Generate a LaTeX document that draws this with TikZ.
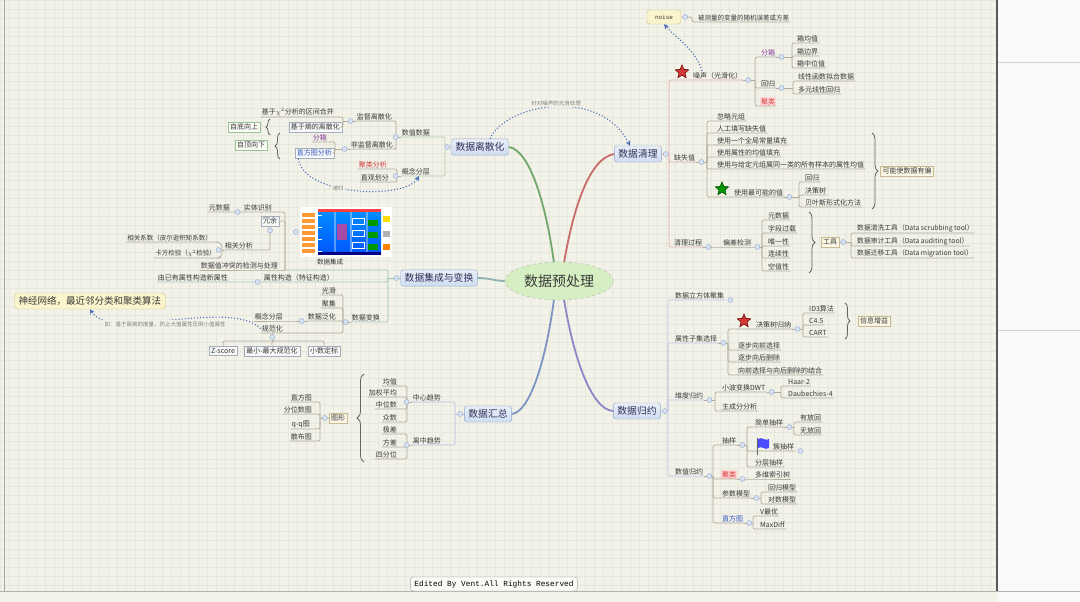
\documentclass[tikz,border=0pt]{standalone}
\usepackage{fontspec}
\setmainfont{Noto Sans CJK SC}
\setmonofont{Liberation Mono}
\usetikzlibrary{shapes.geometric,decorations.pathreplacing,arrows.meta}

\definecolor{paper}{HTML}{F2F2E9}
\definecolor{gridc}{HTML}{E6E8DE}
\definecolor{ink}{HTML}{3A3A3A}
\definecolor{wire}{HTML}{B3AB9B}
\definecolor{knobfill}{HTML}{D8E3F3}
\definecolor{knobline}{HTML}{9FB3D2}
\definecolor{topicfill}{HTML}{CFDCF0}
\definecolor{topicline}{HTML}{93A9CB}
\definecolor{tagfill}{HTML}{FBF7E6}
\definecolor{tagline}{HTML}{C9B98F}
\definecolor{boxfill}{HTML}{F7F8F8}
\definecolor{boxline}{HTML}{A4AEBB}
\definecolor{hintc}{HTML}{4A6FB8}
\definecolor{rootfill}{HTML}{D6EFC2}
\definecolor{cleanc}{HTML}{C96A6A}
\definecolor{discc}{HTML}{6FA86A}
\definecolor{integc}{HTML}{8DB2B4}
\definecolor{summc}{HTML}{7D93C4}
\definecolor{reducec}{HTML}{8D86C8}
\definecolor{purpc}{HTML}{8A3FA0}
\definecolor{redc}{HTML}{D23A3A}
\definecolor{bluec}{HTML}{3356C0}
\definecolor{notefill}{HTML}{FAF5CC}
\definecolor{noteline}{HTML}{CFC27E}

\begin{document}
\begin{tikzpicture}[x=1pt,y=-1pt,
  lbl/.style={font=\fontsize{7}{8}\selectfont,text=ink,inner sep=1pt},
  rlbl/.style={lbl,anchor=south west},
  llbl/.style={lbl,anchor=south east},
  conn/.style={draw=wire,line width=0.7pt,rounded corners=2pt},
  knob/.style={circle,draw=knobline,fill=knobfill,line width=0.5pt,inner sep=0pt,minimum size=5pt},
  topic/.style={rectangle,rounded corners=2.5pt,draw=topicline,top color=white!55!topicfill,bottom color=topicfill,text=ink!85!blue,font=\fontsize{9.8}{11}\selectfont,inner xsep=4pt,inner ysep=3.5pt},
  sumbox/.style={lbl,draw=tagline,fill=tagfill,inner sep=2pt},
  plainbox/.style={lbl,draw=boxline,fill=boxfill,inner sep=2pt},
  hintline/.style={draw=hintc,line width=1.1pt,dotted,-{Stealth[length=5pt,width=5pt]}},
  hintlabel/.style={font=\fontsize{5.5}{6}\selectfont,text=gray,fill=paper,inner sep=1pt},
  mainwire/.style={line width=1.8pt},
  badge/.style={star,star points=5,star point ratio=2.2,minimum size=14pt,inner sep=0pt,line width=0.6pt},
  brc/.style={draw=black!60,line width=0.8pt,decorate,decoration={brace,amplitude=#1}},
  brc/.default=6pt,
  note/.style={rounded corners=3pt,draw=noteline,fill=notefill,text=ink}]

\useasboundingbox (0,0) rectangle (1080,602);
\fill[paper] (0,0) rectangle (1080,602);
\draw[gridc,line width=0.3pt,step=9pt] (0,0) grid (997,590);
\fill[white!95!gray] (998,0) rectangle (1080,602);
\draw[gray!35] (998,62) -- (1080,62) (998,330) -- (1080,330);
\draw[black!65,line width=1.4pt] (997,0) -- (997,591);
\draw[gray!60,line width=0.8pt] (0,591) -- (1080,591);
\draw[gray!70,line width=0.8pt] (4,0) -- (4,591);

\node[ellipse,draw=gray!60,dashed,fill=rootfill,minimum width=96pt,minimum height=38pt,font=\fontsize{14}{16}\selectfont,text=ink] (root) at (559,281) {数据预处理};

\node[topic] (clean) at (638,154) {数据清理};
\node[topic] (disc) at (480,147) {数据离散化};
\node[topic] (integ) at (439,278) {数据集成与变换};
\node[topic] (summ) at (488,414) {数据汇总};
\node[topic] (reduce) at (637,411) {数据归约};

\draw[cleanc,mainwire] (root.75) .. controls (574,205) and (590,158) .. (clean.west);
\draw[discc,mainwire] (root.105) .. controls (546,205) and (530,150) .. (disc.east);
\draw[integc,mainwire] (root.west) .. controls (495,281) and (490,278) .. (integ.east);
\draw[summc,mainwire] (root.255) .. controls (546,360) and (530,412) .. (summ.east);
\draw[reducec,mainwire] (root.285) .. controls (574,360) and (592,410) .. (reduce.west);

% cleaning
\coordinate (cT) at (669,154);
\draw[conn,draw=cleanc!55] (clean.east) -- (cT);
\node[rlbl] (noisy) at (692,80) {噪声（光滑化）};
\node[rlbl] (lack) at (673,162) {缺失值};
\node[rlbl] (flow) at (673,247) {清理过程};
\foreach \c in {noisy,lack,flow} \draw[conn,draw=cleanc!55] (cT) |- (\c.south west) -- (\c.south east);
\node[badge,fill=redc,draw=red!45!black] (star1) at (682,72) {};

\draw[conn] (noisy.south east) -- (755,80) coordinate (nT);
\node[rlbl,text=purpc] (bin) at (760,57) {分箱};
\node[rlbl] (reg) at (760,88) {回归};
\node[rlbl,text=redc,fill=red!15] (clu) at (760,106) {聚类};
\foreach \c in {bin,reg,clu} \draw[conn] (nT) |- (\c.south west) -- (\c.south east);
\draw[conn] (bin.south east) -- (792,57) coordinate (bT);
\node[rlbl] (b1) at (796,43) {箱均值};
\node[rlbl] (b2) at (796,56) {箱边界};
\node[rlbl] (b3) at (796,68) {箱中位值};
\foreach \c in {b1,b2,b3} \draw[conn] (bT) |- (\c.south west) -- (\c.south east);
\draw[conn] (reg.south east) -- (793,88) coordinate (rT);
\node[rlbl] (r1) at (797,81) {线性函数拟合数据};
\node[rlbl] (r2) at (797,94) {多元线性回归};
\foreach \c in {r1,r2} \draw[conn] (rT) |- (\c.south west) -- (\c.south east);

\node[note,font=\ttfamily\fontsize{6}{7}\selectfont,minimum width=34pt,minimum height=14pt] (noiseword) at (664,17) {noise};
\node[rlbl,font=\fontsize{6.5}{7.5}\selectfont] (noisedef) at (697,22) {被测量的变量的随机误差或方差};
\draw[conn] (noiseword.east) -- (692,17) |- (noisedef.south west) -- (noisedef.south east);
\draw[hintline] ([xshift=10pt]noisy.north west) .. controls (696,50) and (676,38) .. (noiseword.south);

\draw[conn] (lack.south east) -- (707,162) coordinate (lT);
\node[rlbl] (m1) at (716,121) {忽略元组};
\node[rlbl] (m2) at (716,133) {人工填写缺失值};
\node[rlbl] (m3) at (716,145) {使用一个全局常量填充};
\node[rlbl] (m4) at (716,157) {使用属性的均值填充};
\node[rlbl] (m5) at (716,169) {使用与给定元组属同一类的所有样本的属性均值};
\node[rlbl] (m6) at (733,197) {使用最可能的值};
\foreach \c in {m1,m2,m3,m4,m5,m6} \draw[conn] (lT) |- (\c.south west) -- (\c.south east);
\node[badge,fill=green!60!black,draw=green!30!black] (star2) at (722,189) {};
\draw[conn] (m6.south east) -- (799,197) coordinate (pT);
\node[rlbl] (p1) at (804,182) {回归};
\node[rlbl] (p2) at (804,195) {决策树};
\node[rlbl] (p3) at (804,207) {贝叶斯形式化方法};
\foreach \c in {p1,p2,p3} \draw[conn] (pT) |- (\c.south west) -- (\c.south east);
\draw[brc] (872,133) -- (872,209);
\node[sumbox] (bias) at (907,171) {可能使数据有偏};

\node[rlbl] (dev) at (722,247) {偏差检测};
\draw[conn] (flow.south east) -- (dev.south west) -- (dev.south east) -- (762,247) coordinate (dT);
\node[rlbl] (d1) at (767,220) {元数据};
\node[rlbl] (d2) at (767,233) {字段过载};
\node[rlbl] (d3) at (767,246) {唯一性};
\node[rlbl] (d4) at (767,258) {连续性};
\node[rlbl] (d5) at (767,271) {空值性};
\foreach \c in {d1,d2,d3,d4,d5} \draw[conn] (dT) |- (\c.south west) -- (\c.south east);
\draw[brc] (809,212) -- (809,273);
\node[sumbox] (tool) at (830,242) {工具};
\draw[conn] (tool.east) -- (851,242) coordinate (tT);
\node[rlbl,font=\fontsize{6.8}{7.8}\selectfont] (t1) at (856,233) {数据清洗工具（Data scrubbing tool）};
\node[rlbl,font=\fontsize{6.8}{7.8}\selectfont] (t2) at (856,246) {数据审计工具（Data auditing tool）};
\node[rlbl,font=\fontsize{6.8}{7.8}\selectfont] (t3) at (856,258) {数据迁移工具（Data migration tool）};
\foreach \c in {t1,t2,t3} \draw[conn] (tT) |- (\c.south west) -- (\c.south east);

% reduction
\coordinate (rdT) at (668,411);
\draw[conn,draw=reducec!50] (reduce.east) -- (rdT);
\node[rlbl] (cube) at (674,300) {数据立方体聚集};
\node[rlbl] (attr) at (674,343) {属性子集选择};
\node[rlbl] (dim) at (674,400) {维度归约};
\node[rlbl] (num) at (674,476) {数值归约};
\foreach \c in {cube,attr,dim,num} \draw[conn,draw=reducec!50] (rdT) |- (\c.south west) -- (\c.south east);

\draw[conn] (attr.south east) -- (728,343) coordinate (aT);
\node[rlbl] (dt) at (755,329) {决策树归纳};
\node[rlbl] (fw) at (737,350) {逐步向前选择};
\node[rlbl] (bw) at (737,362) {逐步向后删除};
\node[rlbl] (fb) at (737,375) {向前选择与向后删除的结合};
\foreach \c in {dt,fw,bw,fb} \draw[conn] (aT) |- (\c.south west) -- (\c.south east);
\node[badge,fill=redc,draw=red!45!black] (star3) at (744,321) {};
\draw[conn] (dt.south east) -- (803,329) coordinate (dtT);
\node[rlbl] (id3) at (808,313) {ID3算法};
\node[rlbl] (c45) at (808,325) {C4.5};
\node[rlbl] (cart) at (808,337) {CART};
\foreach \c in {id3,c45,cart} \draw[conn] (dtT) |- (\c.south west) -- (\c.south east);
\draw[brc=5pt] (845,303) -- (845,339);
\node[sumbox] (gain) at (874,321) {信息增益};

\draw[conn] (dim.south east) -- (715,400) coordinate (dmT);
\node[rlbl] (dwt) at (721,392) {小波变换DWT};
\node[rlbl] (pca) at (721,411) {主成分分析};
\foreach \c in {dwt,pca} \draw[conn] (dmT) |- (\c.south west) -- (\c.south east);
\draw[conn] (dwt.south east) -- (781,392) coordinate (wT);
\node[rlbl] (haar) at (787,386) {Haar-2};
\node[rlbl] (daub) at (787,398) {Daubechies-4};
\foreach \c in {haar,daub} \draw[conn] (wT) |- (\c.south west) -- (\c.south east);

\draw[conn] (num.south east) -- (713,476) coordinate (nmT);
\node[rlbl] (smp) at (721,445) {抽样};
\node[rlbl,text=redc,fill=red!18] (clu2) at (721,479) {聚类};
\node[rlbl] (par) at (721,498) {参数模型};
\node[rlbl,text=bluec] (hist) at (721,523) {直方图};
\foreach \c in {smp,clu2,par,hist} \draw[conn] (nmT) |- (\c.south west) -- (\c.south east);
\draw[conn] (smp.south east) -- (747,445) coordinate (sT);
\node[rlbl] (srs) at (754,427) {简单抽样};
\node[rlbl] (clus) at (772,451) {簇抽样};
\node[rlbl] (strat) at (754,467) {分层抽样};
\foreach \c in {srs,clus,strat} \draw[conn] (sT) |- (\c.south west) -- (\c.south east);
\draw[black!60,line width=0.8pt] (757,438) -- (757,455);
\fill[blue!70] (758,439) .. controls (762,436) and (765,442) .. (769,439) -- (769,448) .. controls (765,451) and (762,445) .. (758,448) -- cycle;
\draw[conn] (srs.south east) -- (794,427) coordinate (srT);
\node[rlbl] (wr) at (799,422) {有放回};
\node[rlbl] (wor) at (799,435) {无放回};
\foreach \c in {wr,wor} \draw[conn] (srT) |- (\c.south west) -- (\c.south east);
\node[rlbl] (mdi) at (754,479) {多维索引树};
\draw[conn] (clu2.south east) -- (mdi.south west) -- (mdi.south east);
\draw[conn] (par.south east) -- (761,498) coordinate (pmT);
\node[rlbl] (regm) at (767,492) {回归模型};
\node[rlbl] (logm) at (767,504) {对数模型};
\foreach \c in {regm,logm} \draw[conn] (pmT) |- (\c.south west) -- (\c.south east);
\draw[conn] (hist.south east) -- (753,523) coordinate (hT);
\node[rlbl] (vopt) at (759,516) {V最优};
\node[rlbl] (mdiff) at (759,529) {MaxDiff};
\foreach \c in {vopt,mdiff} \draw[conn] (hT) |- (\c.south west) -- (\c.south east);

% discretization
\coordinate (dsT) at (445,147);
\draw[conn,draw=discc!55] (disc.west) -- (dsT);
\node[llbl] (numd) at (431,137) {数值数据};
\node[llbl] (hier) at (431,176) {概念分层};
\foreach \c in {numd,hier} \draw[conn,draw=discc!55] (dsT) |- (\c.south east) -- (\c.south west);
\draw[conn] (numd.south west) -- (396,137) coordinate (ndT);
\node[llbl] (sup) at (393,121) {监督离散化};
\node[llbl] (unsup) at (394,149) {非监督离散化};
\foreach \c in {sup,unsup} \draw[conn] (ndT) |- (\c.south east) -- (\c.south west);
\draw[conn] (sup.south west) -- (343,121) coordinate (spT);
\node[llbl] (chi) at (335,117) {基于$\chi^2$分析的区间合并};
\node[plainbox,anchor=east] (ent) at (342,127) {基于熵的离散化};
\draw[conn] (spT) |- (chi.south east) -- (chi.south west);
\draw[conn] (spT) |- (ent.east);
\node[sumbox,draw=discc!70,fill=white!70!paper] (bu) at (244,127) {自底向上};
\draw[brc=4pt] (270,135) -- (270,119);
\draw[conn] (unsup.south west) -- (335,149) coordinate (usT);
\node[llbl,text=purpc] (bin2) at (328,142) {分箱};
\node[plainbox,anchor=east,text=bluec] (hista) at (334,153) {直方图分析};
\draw[conn] (usT) |- (bin2.south east) -- (bin2.south west);
\draw[conn] (usT) |- (hista.east);
\node[sumbox,draw=discc!70,fill=white!70!paper] (td) at (251,145) {自顶向下};
\draw[brc=5pt] (280,159) -- (280,133);
\draw[conn] (hier.south west) -- (397,176) coordinate (hrT);
\node[llbl,text=redc] (clan) at (388,169) {聚类分析};
\node[llbl] (intu) at (390,182) {直观划分};
\foreach \c in {clan,intu} \draw[conn] (hrT) |- (\c.south east) -- (\c.south west);
\draw[hintline] ([xshift=4pt]hista.south west) .. controls (302,196) and (405,200) .. ([xshift=-12pt]hier.south east);
\node[hintlabel] (rec) at (338,188) {递归};
\draw[hintline] ([xshift=10pt]disc.north) .. controls (505,104) and (600,86) .. ([xshift=-8pt]clean.north);
\node[hintlabel] (smoothnote) at (556,103) {针对噪声的光滑处理};

% integration and transformation
\coordinate (igT) at (388,278);
\draw[conn,draw=integc!75] (integ.west) -- (igT);
\node[fill=white,minimum width=92pt,minimum height=50pt,inner sep=0pt] (intimg) at (346,232) {};
\foreach \yy in {213,219,...,249} \fill[orange!80] (302,\yy) rectangle (315,{\yy+4});
\fill[red!75] (318,209) rectangle (381,212);
\shade[top color=cyan!55!blue,bottom color=blue!65!cyan] (318,212) rectangle (381,252);
\fill[blue!50!black] (318,252) rectangle (381,255);
\foreach \xx in {334,350,366} \fill[white,opacity=.35] (\xx,212) rectangle ({\xx+2},252);
\fill[violet!70] (337,224) rectangle (347,240);
\foreach \yy in {218,230,242} \draw[white,line width=.5pt] (352,\yy) rectangle (364,{\yy+6});
\foreach \yy in {220,232,244} \fill[green!60!black] (368,\yy) rectangle (378,{\yy+6});
\fill[yellow!80!orange] (383,216) rectangle (390,222);
\fill[gray!60] (383,231) rectangle (390,237);
\fill[orange] (383,244) rectangle (390,250);
\foreach \yy in {215,227,239,251} \draw[white,line width=.5pt] (316,\yy) -- (322,\yy);
\node[lbl,font=\fontsize{6.5}{7.5}\selectfont] (intcap) at (330,262) {数据集成};
\coordinate (ciT) at (285,270);
\draw[conn,draw=integc!75] (igT) |- (ciT);
\node[llbl] (ent2) at (273,212) {实体识别};
\node[llbl] (meta) at (231,212) {元数据};
\node[plainbox] (redund) at (270,221) {冗余};
\node[llbl] (corr) at (254,250) {相关分析};
\node[llbl] (confl) at (279,270) {数据值冲突的检测与处理};
\draw[conn] (ciT) |- (ent2.south east) -- (ent2.south west) -- (meta.south east) -- (meta.south west);
\draw[conn] (ciT) |- (redund.east);
\draw[conn] (redund.south) |- (corr.south east) -- (corr.south west);
\draw[conn] (ciT) -- (confl.south east) -- (confl.south west);
\draw[conn] (corr.south west) -- (222,250) coordinate (crT);
\node[llbl,font=\fontsize{6.5}{7.5}\selectfont] (pear) at (213,242) {相关系数（皮尔逊积矩系数）};
\node[llbl,font=\fontsize{6.5}{7.5}\selectfont] (chi2) at (217,258) {卡方检验（$\chi^2$检验）};
\foreach \c in {pear,chi2} \draw[conn,rounded corners=5pt] (crT) |- (\c.south east) -- (\c.south west);

\node[llbl] (feat) at (335,282) {属性构造（特征构造）};
\node[llbl] (featx) at (229,282) {由已有属性构造新属性};
\draw[conn,draw=integc!75] (igT) |- (feat.south east) -- (feat.south west) -- (featx.south east) -- (featx.south west);

\node[llbl] (trans) at (381,322) {数据变换};
\draw[conn,draw=integc!75] (igT) |- (trans.south east) -- (trans.south west);
\draw[conn] (trans.south west) -- (343,322) coordinate (trT);
\node[llbl] (smooth) at (337,295) {光滑};
\node[llbl] (aggr) at (337,308) {聚集};
\node[llbl] (gen) at (337,321) {数据泛化};
\node[llbl] (norm) at (284,333) {规范化};
\foreach \c in {smooth,aggr,gen,norm} \draw[conn] (trT) |- (\c.south east) -- (\c.south west);
\node[llbl] (chier) at (284,321) {概念分层};
\draw[conn] (gen.south west) -- (chier.south east) -- (chier.south west);
\draw[conn] (norm.south) -- (273,341) coordinate (nrT);
\node[plainbox] (zs) at (223,351) {Z-score};
\node[plainbox] (mm) at (272,351) {最小-最大规范化};
\node[plainbox] (ds) at (324,351) {小数定标};
\foreach \c in {zs,mm,ds} \draw[conn] (nrT) -| (\c.north);
\node[note,font=\fontsize{9.5}{11}\selectfont,minimum height=16pt,inner xsep=4pt] (nn) at (90,301) {神经网络，最近邻分类和聚类算法};
\draw[hintline] (norm.west) .. controls (230,298) and (110,342) .. (nn.south);
\node[hintlabel] (nrmhint) at (165,324) {如：基于距离的度量，防止大值属性压倒小值属性};

% summarization
\coordinate (smT) at (455,414);
\draw[conn,draw=summc!60] (summ.west) -- (smT);
\node[llbl] (ctr) at (442,402) {中心趋势};
\node[llbl] (spr) at (442,445) {离中趋势};
\foreach \c in {ctr,spr} \draw[conn,draw=summc!60] (smT) |- (\c.south east) -- (\c.south west);
\draw[conn] (ctr.south west) -- (407,402) coordinate (ctT);
\node[llbl] (mean) at (398,386) {均值};
\node[llbl] (wmean) at (398,397) {加权平均};
\node[llbl] (med) at (398,409) {中位数};
\node[llbl] (mode) at (398,422) {众数};
\foreach \c in {mean,wmean,med,mode} \draw[conn] (ctT) |- (\c.south east) -- (\c.south west);
\draw[conn] (spr.south west) -- (407,445) coordinate (srT2);
\node[llbl] (rng) at (398,434) {极差};
\node[llbl] (var) at (398,447) {方差};
\node[llbl] (quart) at (398,459) {四分位};
\foreach \c in {rng,var,quart} \draw[conn] (srT2) |- (\c.south east) -- (\c.south west);
\draw[brc=7pt] (364,462) -- (364,374);
\node[sumbox] (plot) at (338,418) {图形};
\draw[conn] (plot.west) -- (320,418) coordinate (plT);
\node[llbl] (hg) at (313,402) {直方图};
\node[llbl] (qp) at (313,414) {分位数图};
\node[llbl] (qq) at (311,429) {q-q图};
\node[llbl] (sc) at (313,441) {散布图};
\foreach \c in {hg,qp,qq,sc} \draw[conn] (plT) |- (\c.south east) -- (\c.south west);

\foreach \p in {noisy,bin,reg,lack,m6,flow,dev,dt,attr,cube,dim,dwt,num,smp,srs,clus,clu2,par,hist}
  \node[knob] at ([xshift=5pt]\p.south east) {};
\foreach \p in {numd,sup,unsup,hier,ent2,corr,feat,trans,gen,ctr,spr}
  \node[knob] at ([xshift=-5pt]\p.south west) {};
\foreach \p in {clean,reduce,tool,noiseword} \node[knob] at ([xshift=4pt]\p.east) {};
\foreach \p in {disc,integ,summ,plot,intimg} \node[knob] at ([xshift=-4pt]\p.west) {};
\foreach \p in {norm,redund} \node[knob] at ([yshift=-4pt]\p.south) {};

\node[draw=gray!70,rounded corners=3pt,fill=white!60!paper,font=\ttfamily\fontsize{7.8}{9}\selectfont,inner xsep=4pt,minimum height=14pt] (credit) at (494,584) {Edited By Vent.All Rights Reserved};
\end{tikzpicture}
\end{document}
